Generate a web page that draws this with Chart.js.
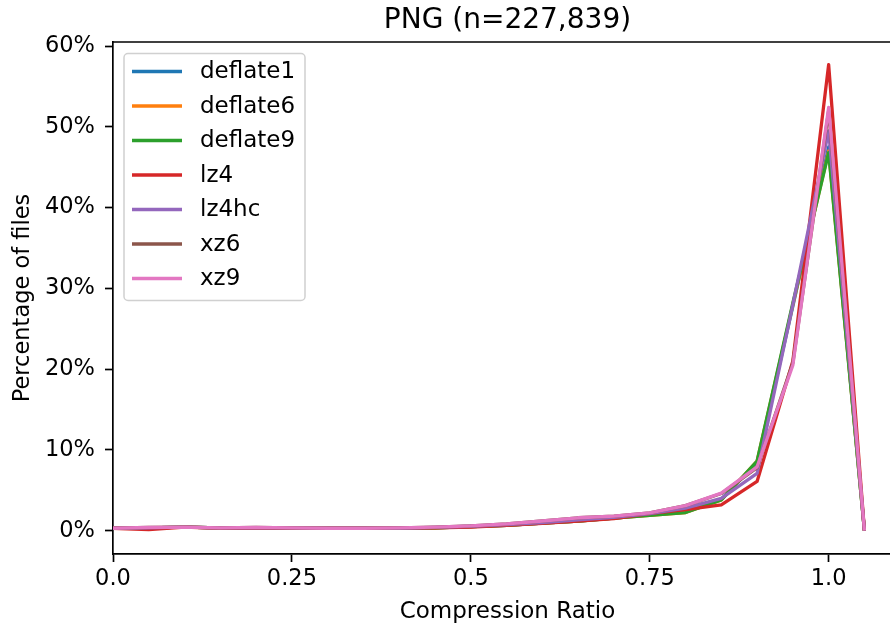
<!DOCTYPE html>
<html>
<head>
<meta charset="utf-8">
<title>PNG compression ratio</title>
<script src="https://cdn.jsdelivr.net/npm/chart.js@4.4.1/dist/chart.umd.min.js"></script>
<style>
    html, body { margin: 0; padding: 0; background: #fff; overflow: hidden; }
    #wrap { width: 925px; height: 628px; }
</style>
</head>
<body>
<div id="wrap"><canvas id="ratioChart"></canvas></div>
<script>
// compression ratio bins (x) and share of files per bin, in percent
const ratios = [0.00, 0.05, 0.10, 0.15, 0.20, 0.25, 0.30, 0.35, 0.40, 0.45, 0.50,
                0.55, 0.60, 0.65, 0.70, 0.75, 0.80, 0.85, 0.90, 0.95, 1.00, 1.05];
const xTicks = [0, 0.25, 0.5, 0.75, 1.0];
const yTicks = [0, 10, 20, 30, 40, 50, 60];

const deflate1 = [0.3, 0.35, 0.45, 0.35, 0.35, 0.35, 0.3, 0.3, 0.3, 0.35, 0.5, 0.65, 0.95, 1.2, 1.55, 1.95, 2.3, 3.9, 8.4, 27.8, 47.5, 0];
const deflate6 = [0.3, 0.35, 0.45, 0.35, 0.35, 0.35, 0.3, 0.3, 0.3, 0.35, 0.5, 0.65, 0.95, 1.2, 1.55, 1.9, 2.25, 3.8, 8.6, 28.0, 47.0, 0];
const deflate9 = [0.3, 0.35, 0.45, 0.35, 0.35, 0.35, 0.3, 0.3, 0.3, 0.35, 0.5, 0.65, 0.95, 1.2, 1.55, 1.9, 2.25, 3.8, 8.6, 28.2, 46.8, 0];
const lz4      = [0.3, 0.15, 0.45, 0.3, 0.3, 0.3, 0.3, 0.3, 0.3, 0.35, 0.45, 0.65, 0.9, 1.2, 1.5, 2.1, 2.6, 3.2, 6.1, 21.0, 57.7, 0];
const lz4hc    = [0.3, 0.35, 0.45, 0.35, 0.35, 0.35, 0.3, 0.3, 0.3, 0.4, 0.55, 0.75, 1.0, 1.35, 1.65, 2.1, 2.8, 4.0, 7.1, 28.0, 49.5, 0];
const xz6      = [0.3, 0.4, 0.45, 0.35, 0.4, 0.35, 0.3, 0.3, 0.35, 0.45, 0.6, 0.85, 1.2, 1.6, 1.8, 2.2, 3.1, 4.6, 7.8, 20.8, 52.0, 0];
const xz9      = [0.3, 0.4, 0.45, 0.35, 0.4, 0.35, 0.3, 0.3, 0.35, 0.45, 0.6, 0.85, 1.2, 1.6, 1.8, 2.2, 3.1, 4.65, 7.9, 20.5, 52.4, 0];

const seriesNames = ['deflate1', 'deflate6', 'deflate9', 'lz4', 'lz4hc', 'xz6', 'xz9'];
const seriesValues = [deflate1, deflate6, deflate9, lz4, lz4hc, xz6, xz9];
const seriesColors = ['#1f77b4', '#ff7f0e', '#2ca02c', '#d62728', '#9467bd', '#8c564b', '#e377c2'];

const chartTitle = 'PNG (n=227,839)';
const FONT = 'DejaVu Sans';

Chart.defaults.font.family = FONT;
Chart.defaults.font.size = 22.5;
Chart.defaults.color = '#000';

// title, top spine and the boxed legend, drawn like the matplotlib original
const framePlugin = {
    id: 'frame',
    afterDraw(chart) {
        const ctx = chart.ctx;
        const area = chart.chartArea;
        ctx.save();

        ctx.strokeStyle = '#000';
        ctx.lineWidth = 1.7;
        ctx.beginPath();
        ctx.moveTo(area.left, area.top);
        ctx.lineTo(area.right, area.top);
        ctx.stroke();

        ctx.fillStyle = '#000';
        ctx.font = `28px "${FONT}"`;
        ctx.textAlign = 'center';
        ctx.textBaseline = 'alphabetic';
        ctx.fillText(chartTitle, (area.left + area.right) / 2, 28);

        // legend
        const box = { x: area.left + 11, y: area.top + 11.5, w: 181, h: 247 };
        ctx.beginPath();
        ctx.roundRect(box.x, box.y, box.w, box.h, 4);
        ctx.fillStyle = 'rgba(255,255,255,0.8)';
        ctx.fill();
        ctx.strokeStyle = '#d0d0d0';
        ctx.lineWidth = 1.5;
        ctx.stroke();

        ctx.font = `23px "${FONT}"`;
        ctx.textAlign = 'left';
        ctx.textBaseline = 'middle';
        chart.data.datasets.forEach((ds, i) => {
            const y = box.y + 18 + i * 34.5;
            ctx.strokeStyle = ds.borderColor;
            ctx.lineWidth = 3.3;
            ctx.beginPath();
            ctx.moveTo(box.x + 8, y);
            ctx.lineTo(box.x + 58, y);
            ctx.stroke();
            ctx.fillStyle = '#000';
            ctx.fillText(ds.label, box.x + 76, y + 1);
        });
        ctx.restore();
    }
};

const ctx = document.getElementById('ratioChart').getContext('2d');

new Chart(ctx, {
    type: 'line',
    data: {
        datasets: seriesNames.map((name, i) => ({
            label: name,
            data: ratios.map((r, j) => ({ x: r, y: seriesValues[i][j] })),
            borderColor: seriesColors[i],
            backgroundColor: seriesColors[i],
            borderWidth: 3.3,
            borderJoinStyle: 'round',
            pointRadius: 0,
            tension: 0,
            fill: false,
            order: seriesNames.length - 1 - i
        }))
    },
    options: {
        responsive: true,
        maintainAspectRatio: false,
        animation: false,
        layout: {
            padding: { top: 42, left: 0, right: 23, bottom: 0 }
        },
        plugins: {
            legend: { display: false },
            tooltip: { enabled: false },
            title: { display: false }
        },
        scales: {
            x: {
                type: 'linear',
                min: 0,
                max: 1.1025,
                afterBuildTicks: scale => {
                    scale.ticks = xTicks.map(v => ({ value: v }));
                },
                afterFit: scale => { scale.height = 74; },
                ticks: {
                    padding: 4,
                    maxRotation: 0,
                    callback: value => (value === 0 ? '0.0' : value === 1 ? '1.0' : String(value))
                },
                grid: {
                    drawOnChartArea: false,
                    tickLength: 8,
                    tickColor: '#000',
                    tickWidth: 1.7
                },
                border: { display: true, color: '#000', width: 1.7 },
                title: {
                    display: true,
                    text: 'Compression Ratio',
                    font: { size: 23 },
                    padding: { top: 0, bottom: 2 }
                }
            },
            y: {
                type: 'linear',
                min: -2.885,
                max: 60.5,
                afterBuildTicks: scale => {
                    scale.ticks = yTicks.map(v => ({ value: v }));
                },
                afterFit: scale => { scale.width = 113; },
                ticks: {
                    padding: 10,
                    callback: value => `${value}%`
                },
                grid: {
                    drawOnChartArea: false,
                    tickLength: 8,
                    tickColor: '#000',
                    tickWidth: 1.7
                },
                border: { display: true, color: '#000', width: 1.7 },
                title: {
                    display: true,
                    text: 'Percentage of files',
                    font: { size: 22.5 },
                    padding: { top: 10, bottom: 0 }
                }
            }
        }
    },
    plugins: [framePlugin]
});
</script>
</body>
</html>
